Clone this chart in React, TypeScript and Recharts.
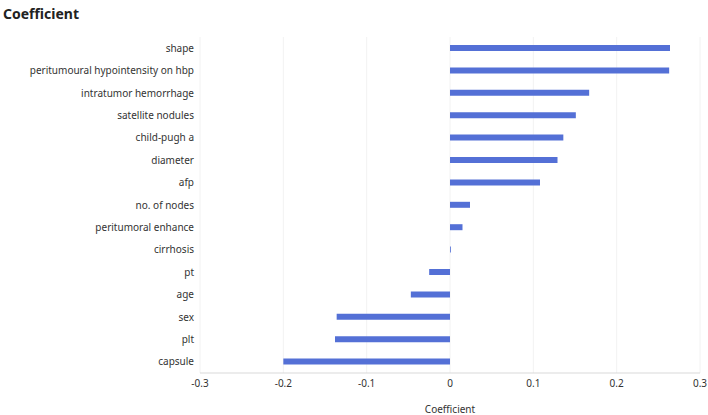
import { Bar, BarChart, CartesianGrid, XAxis, YAxis } from "recharts";

const features = [
  "shape",
  "peritumoural hypointensity on hbp",
  "intratumor hemorrhage",
  "satellite nodules",
  "child-pugh a",
  "diameter",
  "afp",
  "no. of nodes",
  "peritumoral enhance",
  "cirrhosis",
  "pt",
  "age",
  "sex",
  "plt",
  "capsule",
];

const coefficients = [
  0.264, 0.263, 0.167, 0.151, 0.136, 0.129, 0.108, 0.024, 0.015, 0.001,
  -0.025, -0.047, -0.136, -0.138, -0.2,
];

const xTicks = [-0.3, -0.2, -0.1, 0, 0.1, 0.2, 0.3];

const FONT = "'Noto Sans', sans-serif";
const TEXT = "#333";

// plain <text> so long names stay on one line
function CategoryTick({
  x,
  y,
  payload,
}: {
  x?: number;
  y?: number;
  payload?: { value: string };
}) {
  return (
    <text
      x={x}
      y={y}
      dy="0.35em"
      textAnchor="end"
      fill={TEXT}
      fontSize={10}
      fontFamily={FONT}
    >
      {payload?.value}
    </text>
  );
}

export default function App() {
  const data = features.map((name, i) => ({ name, value: coefficients[i] }));

  return (
    <div
      style={{
        position: "absolute",
        left: 0,
        top: 0,
        width: 708,
        height: 415,
        background: "#fff",
        fontFamily: FONT,
      }}
    >
      <div
        style={{
          position: "absolute",
          left: 3,
          top: 4,
          fontSize: 14,
          fontWeight: 700,
          color: "#222",
          lineHeight: "20px",
        }}
      >
        Coefficient
      </div>
      <BarChart
        layout="vertical"
        width={708}
        height={415}
        data={data}
        margin={{ top: 37, right: 8, bottom: 0, left: 0 }}
      >
        <CartesianGrid horizontal={false} stroke="#f2f2f2" />
        <XAxis
          type="number"
          domain={[-0.3, 0.3]}
          ticks={xTicks}
          height={42}
          tickLine={false}
          tickSize={0}
          tickMargin={7}
          axisLine={{ stroke: "#d9d9d9" }}
          tick={{ fill: TEXT, fontSize: 10, fontFamily: FONT }}
          label={{
            value: "Coefficient",
            position: "insideBottom",
            offset: 2,
            fill: TEXT,
            fontSize: 10,
            fontFamily: FONT,
          }}
        />
        <YAxis
          type="category"
          dataKey="name"
          width={200}
          axisLine={false}
          tickLine={false}
          tickSize={0}
          tickMargin={6}
          interval={0}
          tick={<CategoryTick />}
        />
        <Bar
          dataKey="value"
          fill="#5470d6"
          barSize={6}
          isAnimationActive={false}
        />
      </BarChart>
    </div>
  );
}
